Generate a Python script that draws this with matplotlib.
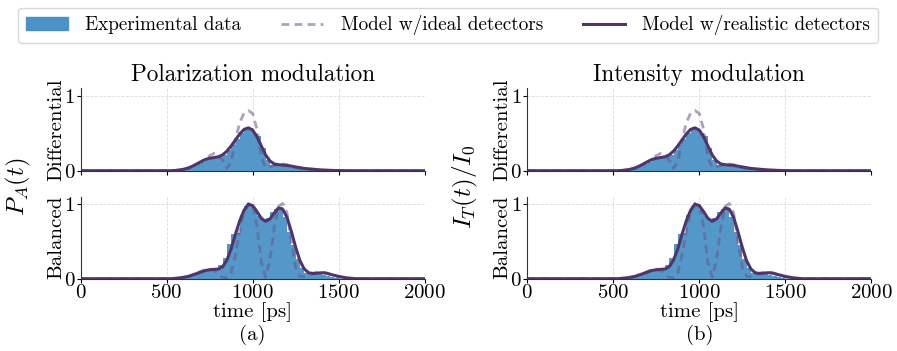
import matplotlib.pyplot as plt
from matplotlib.patches import Patch
from matplotlib.lines import Line2D

plt.rcParams['font.family'] = 'serif'
plt.rcParams['font.serif'] = ['cmr10']
plt.rcParams['mathtext.fontset'] = 'cm'
plt.rcParams['axes.formatter.use_mathtext'] = True

# histogram bins (left edges, 25 ps wide)
bin_edges_left = [550, 575, 600, 625, 650, 675, 700, 725, 750, 775, 800, 825, 850, 875,
                  900, 925, 950, 975, 1000, 1025, 1050, 1075, 1100, 1125, 1150, 1175,
                  1200, 1225, 1250, 1275, 1300, 1325, 1350, 1375, 1400, 1425, 1450, 1475]
hist_balanced = [0.01, 0.02, 0.03, 0.04, 0.06, 0.07, 0.09, 0.10, 0.11, 0.13, 0.18, 0.28, 0.47, 0.60,
                 0.61, 0.85, 0.98, 0.97, 0.92, 0.84, 0.80, 0.82, 0.90, 0.93, 0.96, 0.83,
                 0.62, 0.45, 0.26, 0.14, 0.08, 0.07, 0.06, 0.06, 0.05, 0.03, 0.02, 0.01]
hist_differential = [0.0, 0.01, 0.02, 0.04, 0.06, 0.09, 0.11, 0.14, 0.15, 0.17, 0.18, 0.21, 0.27, 0.34,
                     0.42, 0.50, 0.56, 0.57, 0.50, 0.46, 0.30, 0.14, 0.08, 0.07, 0.07, 0.06,
                     0.05, 0.04, 0.03, 0.02, 0.02, 0.01, 0.01, 0.01, 0.0, 0.0, 0.0, 0.0]

# model curves
t_model = [0, 500, 525, 550, 575, 600, 625, 650, 675, 700, 725, 750, 775, 800, 825, 850, 875,
           900, 925, 950, 975, 1000, 1025, 1050, 1075, 1100, 1125, 1150, 1175, 1200, 1225,
           1250, 1275, 1300, 1325, 1350, 1375, 1400, 1425, 1450, 1475, 1500, 1525, 1550,
           1575, 1600, 2000]
bal_real = [0, 0, 0, 0.005, 0.01, 0.02, 0.03, 0.05, 0.07, 0.09, 0.11, 0.12, 0.125, 0.13, 0.16, 0.25, 0.40,
            0.60, 0.78, 0.92, 1.0, 0.98, 0.90, 0.81, 0.77, 0.80, 0.88, 0.95, 0.93, 0.82, 0.63,
            0.42, 0.24, 0.13, 0.08, 0.07, 0.075, 0.08, 0.075, 0.06, 0.045, 0.03, 0.02, 0.01,
            0.005, 0, 0]
bal_ideal = [0, 0, 0, 0.005, 0.01, 0.02, 0.03, 0.05, 0.07, 0.10, 0.125, 0.13, 0.11, 0.06, 0.015, 0.01, 0.08,
             0.32, 0.65, 0.90, 1.01, 0.98, 0.70, 0.22, 0.02, 0.25, 0.68, 0.97, 1.01, 0.88, 0.50,
             0.15, 0.03, 0.03, 0.05, 0.07, 0.085, 0.09, 0.08, 0.06, 0.04, 0.025, 0.015, 0.008,
             0.003, 0, 0]
diff_real = [0, 0, 0, 0.003, 0.01, 0.02, 0.035, 0.06, 0.09, 0.12, 0.15, 0.165, 0.175, 0.185, 0.21, 0.26, 0.33,
             0.41, 0.49, 0.55, 0.57, 0.54, 0.45, 0.33, 0.21, 0.13, 0.09, 0.08, 0.075, 0.07, 0.06,
             0.05, 0.04, 0.03, 0.025, 0.02, 0.015, 0.01, 0.008, 0.005, 0.003, 0.002, 0.001, 0,
             0, 0, 0]
diff_ideal = [0, 0, 0, 0.003, 0.01, 0.02, 0.035, 0.06, 0.09, 0.12, 0.16, 0.20, 0.23, 0.22, 0.14, 0.03, 0.12,
              0.42, 0.64, 0.77, 0.80, 0.76, 0.55, 0.18, 0.04, 0.05, 0.07, 0.085, 0.09, 0.08, 0.06,
              0.04, 0.03, 0.02, 0.015, 0.01, 0.008, 0.005, 0.003, 0.002, 0.001, 0, 0, 0,
              0, 0, 0]

panels = ['Polarization modulation', 'Intensity modulation']
ylabels = [r'$P_A(t)$', r'$I_T(t)/I_0$']
tags = ['(a)', '(b)']

c_bar = '#4b92c6'
c_real = '#513569'
c_ideal = '#6a5487'
a_ideal = 0.55
dash = (0, (2.8, 1.9))

fig = plt.figure(figsize=(8.97, 3.51), dpi=100)

lefts = [80.7 / 897, 527.3 / 897]
width = 344 / 897
rows = [(1 - 170.7 / 351, 82.7 / 351), (1 - 278.7 / 351, 82.0 / 351)]

for p in range(2):
    for r, (hist, real, ideal, rowname) in enumerate([
            (hist_differential, diff_real, diff_ideal, 'Differential'),
            (hist_balanced, bal_real, bal_ideal, 'Balanced')]):
        ax = fig.add_axes([lefts[p], rows[r][0], width, rows[r][1]])
        ax.bar(bin_edges_left, hist, width=25, align='edge', color=c_bar, linewidth=0, alpha=0.95)
        ax.plot(t_model, ideal, color=c_ideal, alpha=a_ideal, lw=2.0, ls=dash)
        ax.plot(t_model, real, color=c_real, lw=2.2)
        ax.set_xlim(0, 2000)
        ax.set_ylim(0, 1.1)
        ax.set_yticks([0, 1])
        ax.set_xticks([0, 500, 1000, 1500, 2000])
        ax.grid(True, ls='--', lw=0.6, color='#dddddd')
        ax.set_axisbelow(True)
        for s in ['top', 'right']:
            ax.spines[s].set_visible(False)
        ax.spines['left'].set_color('#333333')
        ax.spines['bottom'].set_color('#333333')
        ax.tick_params(labelsize=15, length=3, pad=1)
        ax.set_ylabel(rowname, fontsize=15, labelpad=-1)
        if r == 0:
            ax.set_title(panels[p], fontsize=16.7, pad=5)
            ax.tick_params(labelbottom=False)
        else:
            ax.set_xlabel('time [ps]', fontsize=15, labelpad=0)
    fig.text(lefts[p] - 62 / 897, 1 - 187 / 351, ylabels[p], rotation=90, fontsize=18,
             ha='center', va='center')
    fig.text(lefts[p] + width / 2, 1 - 335 / 351, tags[p], fontsize=15, ha='center', va='center')

handles = [Patch(color=c_bar),
           Line2D([], [], color=c_ideal, alpha=a_ideal, lw=2.0, ls=dash),
           Line2D([], [], color=c_real, lw=2.2)]
labels = ['Experimental data', 'Model w/ideal detectors', 'Model w/realistic detectors']
fig.legend(handles, labels, loc='lower left', ncol=3, mode='expand', fontsize=13.8,
           bbox_to_anchor=(18 / 897, 1 - 43 / 351, 860 / 897, 38 / 351),
           frameon=True, edgecolor='#cccccc', borderaxespad=0, handlelength=2.2,
           handletextpad=0.9, columnspacing=2.2)

fig.savefig('out.png', dpi=100)
